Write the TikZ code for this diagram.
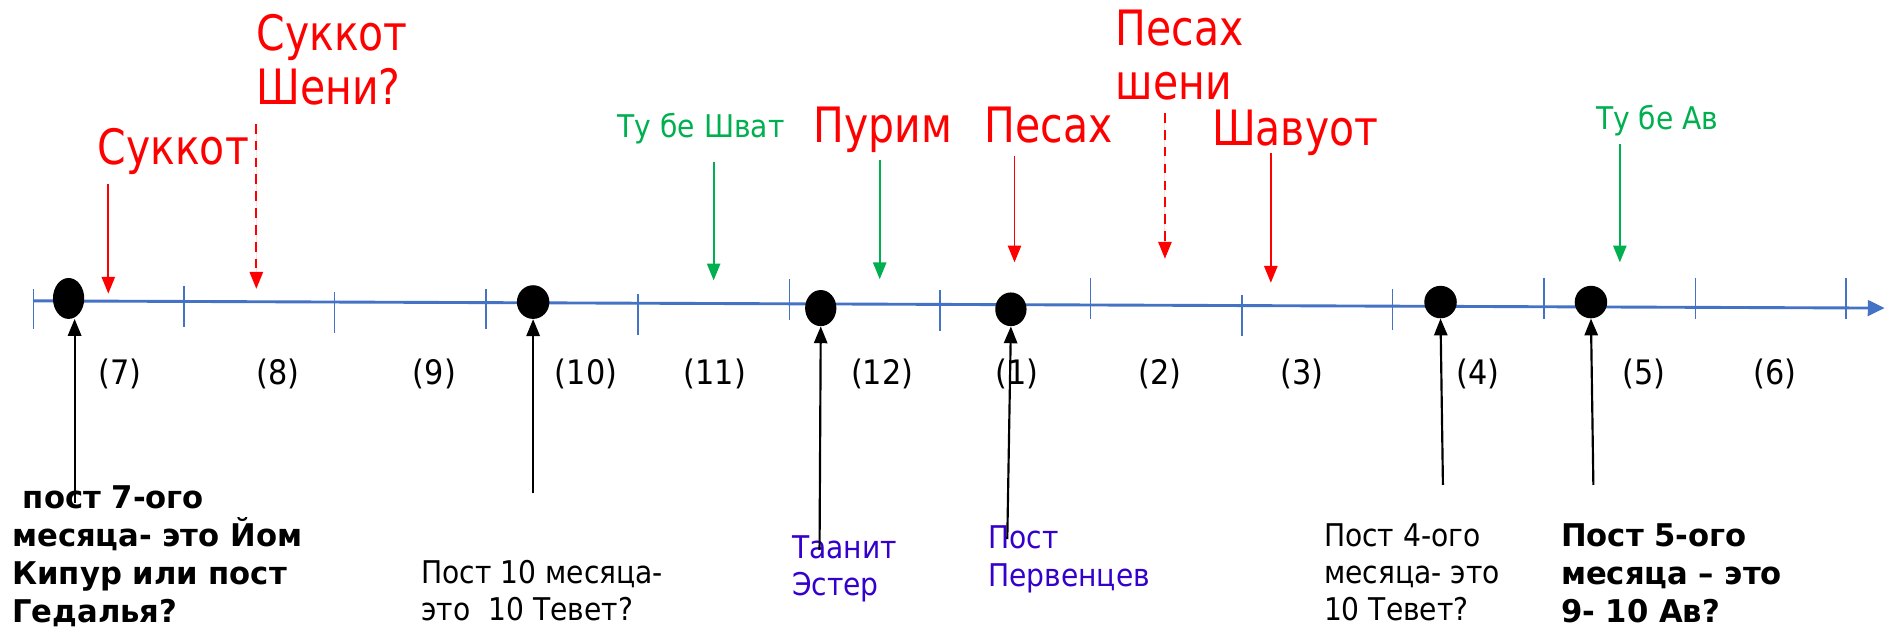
\documentclass[tikz,border=0pt]{standalone}
\usepackage{fontspec}
\setmainfont{DejaVu Sans}[FakeStretch=0.9,BoldFeatures={FakeStretch=0.98}]
\newfontfamily\redfont{DejaVu Sans}[FakeStretch=0.84]
\usetikzlibrary{arrows.meta,shapes.geometric}
\definecolor{axisblue}{RGB}{68,114,196}
\definecolor{fred}{RGB}{255,0,0}
\definecolor{fgreen}{RGB}{0,176,80}
\definecolor{fblue}{RGB}{51,0,204}
\tikzset{
  tri/.style={-{Triangle[width=11pt,length=14pt]}},
  redarr/.style={tri,draw=fred,fill=fred,line width=1.6pt},
  greenarr/.style={tri,draw=fgreen,fill=fgreen,line width=1.6pt},
  dasharr/.style={redarr,dash pattern=on 8pt off 6pt},
  blackarr/.style={tri,draw=black,fill=black,line width=1.8pt},
  dot/.style={ellipse,fill=black,inner sep=0pt},
  tickline/.style={draw=axisblue,line width=1.3pt},
  bigred/.style={text=fred,font=\redfont\fontsize{40.5}{45}\selectfont,anchor=base west,inner sep=0pt,align=left},
  greenlab/.style={text=fgreen,font=\fontsize{26}{30}\selectfont,anchor=base west,inner sep=0pt},
  month/.style={font=\fontsize{28}{30}\selectfont,inner sep=0pt},
  bottxt/.style={font=\fontsize{26}{31}\selectfont,anchor=base west,inner sep=0pt,align=left},
  boldtxt/.style={font=\bfseries\fontsize{26}{31.5}\selectfont,anchor=base west,inner sep=0pt,align=left},
}
\begin{document}
\begin{tikzpicture}[x=1pt,y=-1pt]
\path[use as bounding box] (0,0) rectangle (1568,524);
% axis
\coordinate (ax0) at (28,250);
\coordinate (ax1) at (1566,256);
\draw[draw=axisblue,line width=2.4pt,-{Triangle[width=13pt,length=14pt]}] (ax0) -- (ax1);
% ticks
\foreach \x/\a/\b in {28/240/273,153/238/272,278/243/277,404/240/273,530/244/278,656/232/266,781/241/275,906/231/265,1032/245/279,1157/240/274,1283/231/265,1409/231/265,1534/231/265}
  \draw[tickline] (\x,\a) -- (\x,\b);
% dots
\node[dot,minimum width=26pt,minimum height=34pt] (d7) at (57,248) {};
\node[dot,minimum width=27pt,minimum height=28pt] (d10) at (443,251) {};
\node[dot,minimum width=26pt,minimum height=30pt] (d12) at (682,256) {};
\node[dot,minimum width=26pt,minimum height=28pt] (d1) at (840,257) {};
\node[dot,minimum width=27pt,minimum height=27pt] (d4) at (1197,251) {};
\node[dot,minimum width=27pt,minimum height=27pt] (d5) at (1322,251) {};
% month labels
\foreach \x/\t [count=\i] in {100/(7),231/(8),361/(9),487/(10),594/(11),733/(12),845/(1),964/(2),1082/(3),1228/(4),1366/(5),1475/(6)}
  \node[month] (m\i) at (\x,311) {\t};
% top labels
\node[bigred] (suk) at (81,137) {Суккот};
\node[bigred] (suksh) at (213,87) {Суккот\\Шени?};
\node[greenlab] (tushvat) at (513,114) {Ту бе Шват};
\node[bigred] (purim) at (676,118) {Пурим};
\node[bigred] (pesah) at (818,118) {Песах};
\node[bigred] (pesahsh) at (927,83) {Песах\\шени};
\node[bigred] (shavuot) at (1007,121) {Шавуот};
\node[greenlab] (tuav) at (1326,108) {Ту бе Ав};
% top arrows
\coordinate (a1s) at (90,153);   \coordinate (a1e) at (90,244);
\coordinate (a2s) at (213,103);  \coordinate (a2e) at (213,240);
\coordinate (a3s) at (593,135);  \coordinate (a3e) at (593,233);
\coordinate (a4s) at (731,133);  \coordinate (a4e) at (731,232);
\coordinate (a5s) at (843,130);  \coordinate (a5e) at (843,218);
\coordinate (a6s) at (968,94);   \coordinate (a6e) at (968,215);
\coordinate (a7s) at (1056,127); \coordinate (a7e) at (1056,235);
\coordinate (a8s) at (1346,120); \coordinate (a8e) at (1346,218);
\draw[redarr] (a1s) -- (a1e);
\draw[dasharr] (a2s) -- (a2e);
\draw[greenarr] (a3s) -- (a3e);
\draw[greenarr] (a4s) -- (a4e);
\draw[redarr] (a5s) -- (a5e);
\draw[dasharr] (a6s) -- (a6e);
\draw[redarr] (a7s) -- (a7e);
\draw[greenarr] (a8s) -- (a8e);
% bottom labels (anchor = baseline of last line)
\node[boldtxt] (t7) at (10,517) {\ пост 7-ого\\месяца- это Йом\\Кипур или пост\\Гедалья?};
\node[bottxt] (t10) at (350,516) {Пост 10 месяца-\\это\ \ 10 Тевет?};
\node[bottxt,text=fblue] (t12) at (658,495) {Таанит\\Эстер};
\node[bottxt,text=fblue] (t1) at (821,487) {Пост\\Первенцев};
\node[bottxt] (t4) at (1100,516) {Пост 4-ого\\месяца- это\\10 Тевет?};
\node[boldtxt] (t5) at (1297,517) {Пост 5-ого\\месяца – это\\9- 10 Ав?};
% bottom arrows
\coordinate (b1) at (62,418);
\coordinate (b2) at (443,410);
\coordinate (b3) at (681,457);
\coordinate (b4) at (837,448);
\coordinate (b5) at (1199,403);
\coordinate (b6) at (1324,403);
\draw[blackarr] (b1) -- (62,265);
\draw[blackarr] (b2) -- (d10.south);
\draw[blackarr] (b3) -- (d12.south);
\draw[blackarr] (b4) -- (d1.south);
\draw[blackarr] (b5) -- (d4.south);
\draw[blackarr] (b6) -- (d5.south);
\end{tikzpicture}
\end{document}
